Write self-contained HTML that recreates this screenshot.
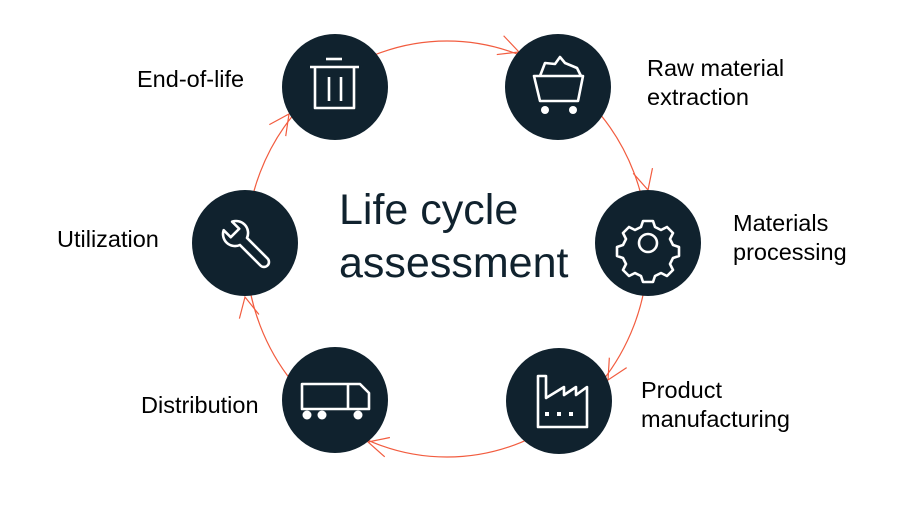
<!DOCTYPE html>
<html><head><style>
body{margin:0;background:#fff;width:902px;height:515px;overflow:hidden;font-family:"Liberation Sans",Arial,sans-serif}
.l{position:absolute;font-size:23.5px;color:#000;line-height:29px}
</style></head><body>
<svg width="902" height="515" style="position:absolute;left:0;top:0">
<ellipse cx="447" cy="249" rx="201" ry="208" fill="none" stroke="#f25c3f" stroke-width="1.2"/>
<g fill="none" stroke="#f25c3f" stroke-width="1.2">
<path d="M-20,-10 L0,0 L-20,10" transform="translate(519,52) rotate(20)"/>
<path d="M-20,-10 L0,0 L-20,10" transform="translate(648,190) rotate(75)"/>
<path d="M-20,-10 L0,0 L-20,10" transform="translate(608,380) rotate(120)"/>
<path d="M-20,-10 L0,0 L-20,10" transform="translate(368,442) rotate(195)"/>
<path d="M-20,-10 L0,0 L-20,10" transform="translate(245,297) rotate(258)"/>
<path d="M-20,-10 L0,0 L-20,10" transform="translate(289,114) rotate(305)"/>
</g>
<g fill="#10222e">
<circle cx="335" cy="87" r="53"/><circle cx="558" cy="87" r="53"/>
<circle cx="648" cy="243" r="53"/><circle cx="559" cy="401" r="53"/>
<circle cx="335" cy="400" r="53"/><circle cx="245" cy="243" r="53"/>
</g>
<g fill="none" stroke="#fff" stroke-width="2.6" stroke-linejoin="round">
<line x1="310" y1="67" x2="359" y2="67"/><line x1="326" y1="59" x2="342" y2="59"/>
<path d="M315,67 V108 H354 V67"/><line x1="329" y1="77" x2="329" y2="101"/><line x1="341" y1="77" x2="341" y2="101"/>
<path d="M534,76 L583,76 L578,101 L540,101 Z"/>
<path d="M540,76 L545,63 L555,64 L560,57 L565,63 L577,68 L581,76"/>
<circle cx="648" cy="243" r="9"/>
<path d="M643,221 h10 l2,6 l6,3 l6,-3 l6,6 l-3,6 l3,6 l6,2 v9 l-6,2 l-3,6 l3,6 l-6,6 l-6,-3 l-6,3 l-2,6 h-10 l-2,-6 l-6,-3 l-6,3 l-6,-6 l3,-6 l-3,-6 l-6,-2 v-9 l6,-2 l3,-6 l-3,-6 l6,-6 l6,3 l6,-3 z"/>
<path d="M538,376 V427 H587 V387 L576,395 V387 L564,395 V387 L546,398 V376 Z"/>
<path d="M302,384 H348 V409 H302 Z M348,384 H360 L369,393 V409 H348"/>
<g transform="translate(247,245) rotate(-45)">
<path d="M-5,-5 A12,12 0 0 1 -6,-27 L-6,-17 L6,-17 L6,-27 A12,12 0 0 1 5,-5 V24 A5,5 0 0 1 -5,24 Z"/>
</g>
</g>
<g fill="#fff">
<circle cx="545" cy="110" r="4"/><circle cx="573" cy="110" r="4"/>
<circle cx="307" cy="415" r="4.5"/><circle cx="322" cy="415" r="4.5"/><circle cx="358" cy="415" r="4.5"/>
<rect x="545" y="412" width="4" height="4"/><rect x="557" y="412" width="4" height="4"/><rect x="569" y="412" width="4" height="4"/>
</g>
<text x="339" y="224" font-family="Liberation Sans, Arial, sans-serif" font-size="43" fill="#10222e">Life cycle</text>
<text x="339" y="277" font-family="Liberation Sans, Arial, sans-serif" font-size="43" fill="#10222e">assessment</text>
</svg>
<div class="l" style="left:137px;top:65px">End-of-life</div>
<div class="l" style="left:647px;top:54px">Raw material<br>extraction</div>
<div class="l" style="left:733px;top:209px">Materials<br>processing</div>
<div class="l" style="left:641px;top:376px">Product<br>manufacturing</div>
<div class="l" style="left:141px;top:391px">Distribution</div>
<div class="l" style="left:57px;top:225px">Utilization</div>
</body></html>
